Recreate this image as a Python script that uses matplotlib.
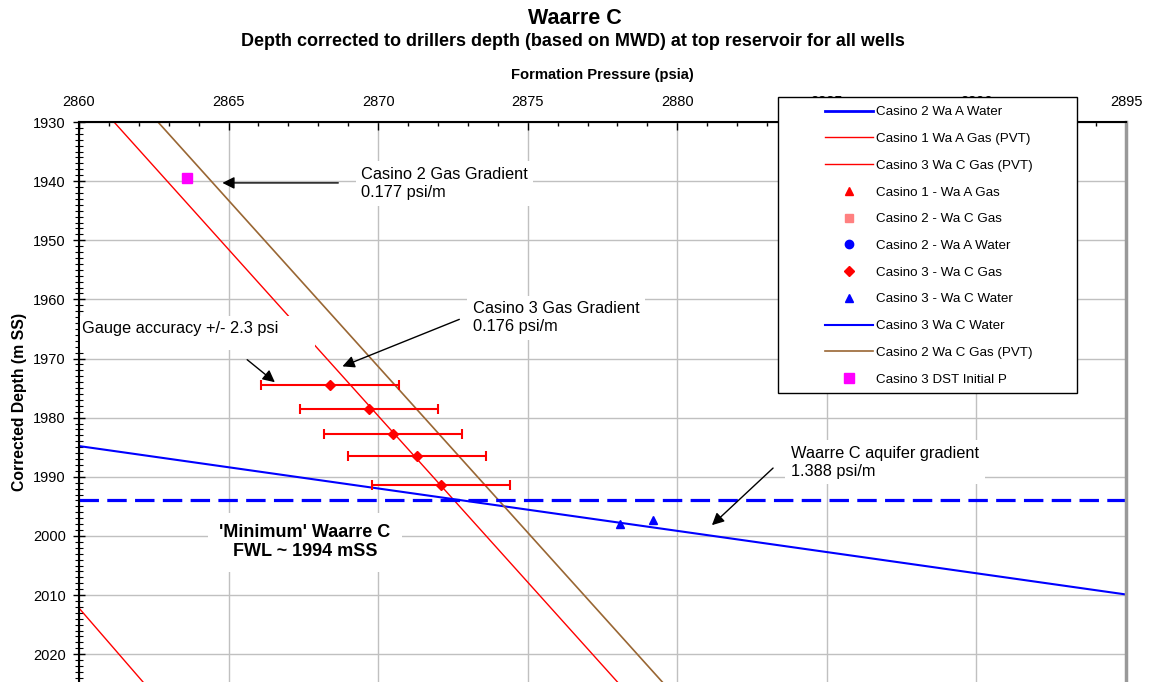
import matplotlib
matplotlib.use('Agg')

from matplotlib import pyplot as plt
from matplotlib.patches import Rectangle
from matplotlib.ticker import MultipleLocator

plt.rcParams['font.family'] = ['Liberation Sans', 'DejaVu Sans']
plt.rcParams['lines.scale_dashes'] = False

# gradient lines (pressure psia, depth m SS)
c2_wa_a_water_p = []
c2_wa_a_water_d = []
c1_wa_a_gas_pvt_p = [2860.0, 2862.14]
c1_wa_a_gas_pvt_d = [2012.2, 2024.7]
c3_wa_c_gas_pvt_p = [2861.17, 2878.0]
c3_wa_c_gas_pvt_d = [1930.0, 2024.7]
c3_wa_c_water_p = [2860.0, 2895.0]
c3_wa_c_water_d = [1984.8, 2009.9]
c2_wa_c_gas_pvt_p = [2862.64, 2879.5]
c2_wa_c_gas_pvt_d = [1930.0, 2024.7]

# measured points
c1_wa_a_gas_p = []
c1_wa_a_gas_d = []
c2_wa_c_gas_p = []
c2_wa_c_gas_d = []
c2_wa_a_wtr_p = []
c2_wa_a_wtr_d = []
c3_wa_c_gas_p = [2868.4, 2869.7, 2870.5, 2871.3, 2872.1]
c3_wa_c_gas_d = [1974.4, 1978.5, 1982.7, 1986.4, 1991.4]
c3_wa_c_wtr_p = [2878.1, 2879.2]
c3_wa_c_wtr_d = [1997.9, 1997.3]
c3_dst_p = [2863.6]
c3_dst_d = [1939.5]

gauge_err = 2.3
fwl_depth = 1994

W, H = 1150, 682
fig = plt.figure(figsize=(W / 100, H / 100), dpi=100)
ax = fig.add_axes([79 / W, 0, 1047 / W, 560 / H])


def px(x, y):
    # figure pixel (from top-left) to figure fraction
    return x / W, 1 - y / H


ax.plot(c2_wa_a_water_p, c2_wa_a_water_d, color='#0000ff', lw=2, label='Casino 2 Wa A Water')
ax.plot(c1_wa_a_gas_pvt_p, c1_wa_a_gas_pvt_d, color='#ff0000', lw=1, label='Casino 1 Wa A Gas (PVT)')
ax.plot(c3_wa_c_gas_pvt_p, c3_wa_c_gas_pvt_d, color='#ff0000', lw=1, label='Casino 3 Wa C Gas (PVT)')
ax.plot(c1_wa_a_gas_p, c1_wa_a_gas_d, ls='none', marker='^', ms=6, color='#ff0000', label='Casino 1 - Wa A Gas')
ax.plot(c2_wa_c_gas_p, c2_wa_c_gas_d, ls='none', marker='s', ms=6, color='#ff8080', label='Casino 2 - Wa C Gas')
ax.plot(c2_wa_a_wtr_p, c2_wa_a_wtr_d, ls='none', marker='o', ms=6, color='#0000ff', label='Casino 2 - Wa A Water')
ax.errorbar(c3_wa_c_gas_p, c3_wa_c_gas_d, xerr=gauge_err, fmt='none', ecolor='#ff0000',
            elinewidth=1.5, capsize=3.5, capthick=1.5, zorder=3)
ax.plot(c3_wa_c_gas_p, c3_wa_c_gas_d, ls='none', marker='D', ms=5, color='#ff0000', label='Casino 3 - Wa C Gas', zorder=4)
ax.plot(c3_wa_c_wtr_p, c3_wa_c_wtr_d, ls='none', marker='^', ms=6, color='#0000ff', label='Casino 3 - Wa C Water')
ax.plot(c3_wa_c_water_p, c3_wa_c_water_d, color='#0000ff', lw=1.5, label='Casino 3 Wa C Water')
ax.plot(c2_wa_c_gas_pvt_p, c2_wa_c_gas_pvt_d, color='#996633', lw=1.2, label='Casino 2 Wa C Gas (PVT)')
ax.plot(c3_dst_p, c3_dst_d, ls='none', marker='s', ms=6.5, color='#ff00ff', label='Casino 3 DST Initial P')

ax.axhline(fwl_depth, color='#0000ff', lw=2.3, dashes=(14, 6))

ax.set_xlim(2860, 2895)
ax.set_ylim(2024.7, 1930)
ax.xaxis.set_major_locator(MultipleLocator(5))
ax.xaxis.set_minor_locator(MultipleLocator(1))
ax.yaxis.set_major_locator(MultipleLocator(10))
ax.yaxis.set_minor_locator(MultipleLocator(1))
ax.xaxis.tick_top()
ax.xaxis.set_label_position('top')
ax.tick_params(axis='x', which='major', direction='in', length=6, width=1, labelsize=10.5, pad=9)
ax.tick_params(axis='x', which='minor', direction='in', length=3, width=1)
ax.tick_params(axis='y', which='major', direction='inout', length=9, width=1, labelsize=10.5, pad=5)
ax.tick_params(axis='y', which='minor', direction='inout', length=6, width=0.8)
ax.grid(True, which='major', color='#c0c0c0', lw=1)
ax.set_axisbelow(True)

ax.spines['bottom'].set_visible(False)
ax.spines['top'].set_linewidth(1.5)
ax.spines['left'].set_linewidth(1.5)
ax.spines['right'].set_color('#999999')
ax.spines['right'].set_linewidth(2.5)

ax.set_xlabel('Formation Pressure (psia)', fontsize=10.6, fontweight='bold', labelpad=12)
ax.set_ylabel('Corrected Depth (m SS)', fontsize=11.3, fontweight='bold', labelpad=4)

fig.text(*px(575, 18), 'Waarre C', ha='center', va='center', fontsize=15.5, fontweight='bold')
fig.text(*px(573, 42), 'Depth corrected to drillers depth (based on MWD) at top reservoir for all wells',
         ha='center', va='center', fontsize=13, fontweight='bold')

# text boxes and arrows
box = dict(facecolor='white', edgecolor='none', pad=4)
arrow = dict(arrowstyle='-|>', color='black', lw=1, mutation_scale=18)
note_size = 11.8

ax.annotate('', xy=(2864.7, 1940.3), xytext=(2868.76, 1940.3), arrowprops=arrow, zorder=6)
ax.text(2869.43, 1940.4, 'Casino 2 Gas Gradient\n0.177 psi/m', ha='left', va='center',
        fontsize=note_size, linespacing=1.25, bbox=box, zorder=6)

ax.annotate('', xy=(2868.72, 1971.5), xytext=(2872.8, 1963.2), arrowprops=arrow, zorder=6)
ax.text(2873.17, 1963.1, 'Casino 3 Gas Gradient\n0.176 psi/m', ha='left', va='center',
        fontsize=note_size, linespacing=1.25, bbox=box, zorder=6)

ax.add_patch(Rectangle(px(80, 350), 235 / W, 34 / H, transform=fig.transFigure,
                       facecolor='white', edgecolor='none', zorder=5, clip_on=False))
ax.annotate('', xy=(2866.62, 1974.3), xytext=(2865.55, 1969.9), arrowprops=arrow, zorder=6)
ax.text(2860.1, 1965.0, 'Gauge accuracy +/- 2.3 psi', ha='left', va='center',
        fontsize=note_size, zorder=6)

ax.annotate('', xy=(2881.09, 1998.5), xytext=(2883.27, 1988.2), arrowprops=arrow, zorder=6)
ax.text(2883.8, 1987.5, 'Waarre C aquifer gradient\n1.388 psi/m', ha='left', va='center',
        fontsize=note_size, linespacing=1.25, bbox=box, zorder=6)

ax.text(2867.55, 2001.05, "'Minimum' Waarre C\nFWL ~ 1994 mSS", ha='center', va='center',
        fontsize=13, fontweight='bold', linespacing=1.2,
        bbox=dict(facecolor='white', edgecolor='none', pad=8), zorder=6)

# legend box drawn over the top axis, like the original
fig.add_artist(Rectangle(px(778, 393), 299 / W, 296 / H, transform=fig.transFigure,
                         facecolor='white', edgecolor='black', lw=1, zorder=3))
handles, labels = ax.get_legend_handles_labels()
fig.legend(handles, labels, loc='upper left', bbox_to_anchor=px(825, 106),
           bbox_transform=fig.transFigure, frameon=False, fontsize=9.6,
           handlelength=3.6, handletextpad=0.25, labelspacing=1.08, borderpad=0,
           borderaxespad=0).set_zorder(5)

fig.savefig('out.png', dpi=100)
plt.close(fig)
